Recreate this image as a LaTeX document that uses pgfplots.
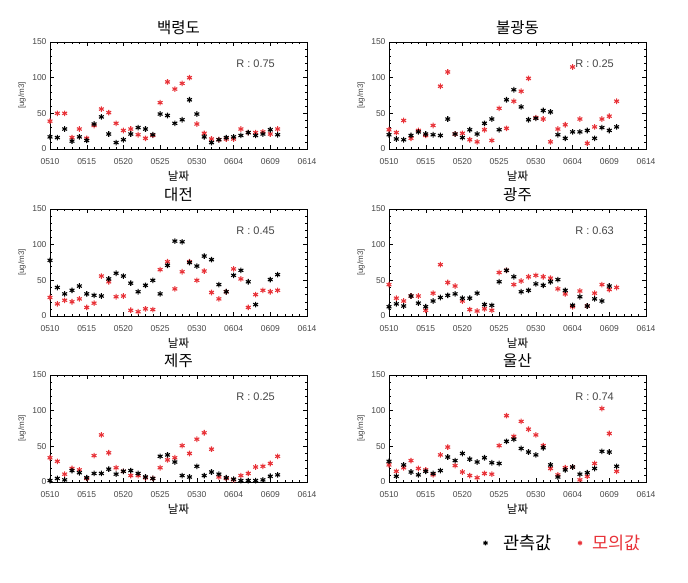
\documentclass[border=0pt]{standalone}
\usepackage{pgfplots}
\pgfplotsset{compat=1.18}
\usepackage{pgfplotstable}
\usepackage{fontspec}
\setmainfont{Liberation Sans}
\newfontfamily\kr{Noto Sans CJK KR}
\definecolor{modred}{RGB}{232,50,56}
\definecolor{tickgray}{RGB}{70,70,70}

% i = day index from 0510, obs = 관측값, mod = 모의값
\pgfplotstableread{
i obs mod
0 17 39
1 16 50
2 28 50
3 11 16
4 17 28
5 12 15
6 35 33
7 45 56
8 21 51
9 9 36
10 13 26
11 21 28
12 30 20
13 28 15
14 20 19
15 49 65
16 47 94
17 36 84
18 41 92
19 69 100
20 49 35
21 17 22
22 9 14
23 13 13
24 16 14
25 17 14
26 19 28
27 23 23
28 19 23
29 21 24
30 27 21
31 20 28
}\baek
\pgfplotstableread{
i obs mod
0 20 27
1 14 23
2 13 40
3 19 15
4 24 26
5 21 19
6 20 33
7 19 88
8 42 108
9 21 21
10 16 22
11 27 13
12 21 10
13 36 27
14 42 12
15 27 57
16 69 29
17 83 67
18 59 81
19 41 99
20 43 44
21 54 42
22 52 10
23 20 28
24 15 34
25 24 115
26 24 42
27 26 8
28 15 31
29 30 42
30 26 46
31 31 67
}\bulg
\pgfplotstableread{
i obs mod
0 78 26
1 40 17
2 31 22
3 36 20
4 42 24
5 31 12
6 29 18
7 28 56
8 52 48
9 60 27
10 56 28
11 46 8
12 34 6
13 43 10
14 50 9
15 31 65
16 71 76
17 105 38
18 104 62
19 75 76
20 70 50
21 84 63
22 79 33
23 44 24
24 34 34
25 57 66
26 64 52
27 48 12
28 16 30
29 nan 36
30 51 34
31 58 36
}\daej
\pgfplotstableread{
i obs mod
0 13 44
1 17 25
2 14 21
3 28 28
4 18 28
5 13 8
6 21 32
7 26 72
8 29 47
9 31 42
10 25 21
11 25 9
12 32 7
13 16 10
14 15 8
15 48 61
16 64 64
17 55 44
18 34 49
19 36 55
20 45 57
21 43 55
22 48 53
23 51 38
24 36 31
25 15 13
26 27 35
27 14 14
28 24 32
29 21 44
30 42 37
31 nan 40
}\gwan
\pgfplotstableread{
i obs mod
0 2 34
1 5 29
2 3 11
3 16 19
4 13 17
5 6 5
6 12 37
7 12 66
8 18 41
9 11 20
10 15 15
11 16 9
12 12 9
13 7 6
14 5 5
15 36 20
16 38 31
17 28 34
18 9 51
19 7 40
20 22 60
21 9 69
22 14 46
23 11 7
24 6 5
25 4 3
26 2 9
27 2 12
28 2 21
29 3 22
30 8 26
31 10 36
}\jeju
\pgfplotstableread{
i obs mod
0 29 24
1 8 15
2 24 20
3 14 30
4 10 19
5 15 17
6 12 10
7 16 38
8 35 49
9 30 23
10 40 14
11 32 9
12 28 6
13 34 12
14 27 11
15 26 51
16 57 93
17 60 64
18 47 85
19 42 74
20 38 66
21 48 51
22 24 19
23 7 10
24 17 20
25 21 21
26 11 3
27 13 8
28 19 26
29 43 103
30 42 68
31 22 15
}\ulsa

\pgfplotsset{
  panel/.style={
    anchor=north west, scale only axis, width=257pt, height=107pt,
    xmin=0, xmax=35, ymin=0, ymax=150,
    xtick={0,5,...,35},
    xticklabels={0510,0515,0520,0525,0530,0604,0609,0614},
    ytick={0,50,100,150},
    minor x tick num=4, minor y tick num=4,
    tick align=inside, major tick length=4pt, minor tick length=2pt,
    tick style={black, thin}, axis line style={black, thin},
    ticklabel style={font=\fontsize{8.5}{9}\selectfont, text=tickgray},
    xticklabel style={yshift=-6pt},
    /pgf/number format/assume math mode=true,
    ylabel={[ug/m3]},
    ylabel style={font=\fontsize{8}{9}\selectfont, text=tickgray,
      at={(axis description cs:-0.109,0.5)}, anchor=center},
    xlabel={날짜},
    xlabel style={font=\kr\fontsize{11.5}{13}\selectfont,
      at={(axis description cs:0.5,-0.255)}, anchor=center},
    title style={font=\kr\fontsize{15.5}{17}\selectfont,
      at={(axis description cs:0.5,1.075)}, anchor=center},
    clip=false,
  },
  obs/.style={only marks, mark=asterisk, black, mark size=2.8pt, line width=1.1pt},
  mod/.style={only marks, mark=asterisk, modred, mark size=2.8pt, line width=1.1pt},
}
\tikzset{rlab/.style={font=\fontsize{11}{12}\selectfont, text=tickgray}}

\begin{document}
\begin{tikzpicture}
\useasboundingbox (0,0) rectangle (688pt,-583pt);

\begin{axis}[panel, at={(50pt,-42pt)}, title={백령도}]
\addplot[mod] table[x=i, y=mod] {\baek};
\addplot[obs] table[x=i, y=obs] {\baek};
\node[rlab] at (axis cs:28,120) {R : 0.75};
\end{axis}

\begin{axis}[panel, at={(389pt,-42pt)}, title={불광동}]
\addplot[mod] table[x=i, y=mod] {\bulg};
\addplot[obs] table[x=i, y=obs] {\bulg};
\node[rlab] at (axis cs:28,120) {R : 0.25};
\end{axis}

\begin{axis}[panel, at={(50pt,-209pt)}, title={대전}]
\addplot[mod] table[x=i, y=mod] {\daej};
\addplot[obs] table[x=i, y=obs] {\daej};
\node[rlab] at (axis cs:28,120) {R : 0.45};
\end{axis}

\begin{axis}[panel, at={(389pt,-209pt)}, title={광주}]
\addplot[mod] table[x=i, y=mod] {\gwan};
\addplot[obs] table[x=i, y=obs] {\gwan};
\node[rlab] at (axis cs:28,120) {R : 0.63};
\end{axis}

\begin{axis}[panel, at={(50pt,-375pt)}, title={제주}]
\addplot[mod] table[x=i, y=mod] {\jeju};
\addplot[obs] table[x=i, y=obs] {\jeju};
\node[rlab] at (axis cs:28,120) {R : 0.25};
\end{axis}

\begin{axis}[panel, at={(389pt,-375pt)}, title={울산},
  legend style={at={(axis description cs:0.355,-0.57)}, anchor=west,
    draw=none, fill=none, legend columns=2,
    font=\kr\fontsize{17.5}{19}\selectfont,
    /tikz/column 1/.style={column sep=14pt},
    /tikz/column 2/.style={column sep=24pt},
    /tikz/column 3/.style={column sep=8pt}},
  legend image code/.code={\draw[mark repeat=2,mark phase=2,#1, mark size=2.4pt]
      plot coordinates {(0cm,0cm) (0.25cm,0cm) (0.5cm,0cm)};}]
\addlegendimage{obs}
\addlegendentry{관측값}
\addlegendimage{mod}
\addlegendentry{\textcolor{modred}{모의값}}
\addplot[mod, forget plot] table[x=i, y=mod] {\ulsa};
\addplot[obs, forget plot] table[x=i, y=obs] {\ulsa};
\node[rlab] at (axis cs:28,120) {R : 0.74};
\end{axis}
\end{tikzpicture}
\end{document}
